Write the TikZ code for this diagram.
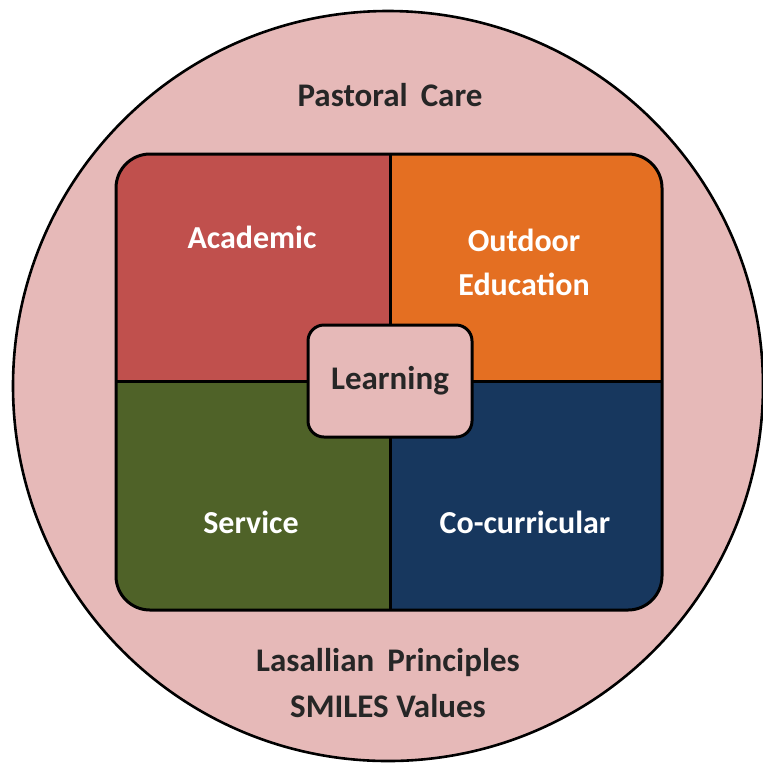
\documentclass[tikz,border=0pt]{standalone}
\usepackage{fontspec}
\setmainfont{Carlito}
\usepackage{xcolor}
\usepackage{tikz}

\definecolor{pastoral}{HTML}{E6B9B8}
\definecolor{academic}{HTML}{C0504D}
\definecolor{outdoor}{HTML}{E46F22}
\definecolor{service}{HTML}{4F6228}
\definecolor{cocurr}{HTML}{17375E}

\begin{document}
\begin{tikzpicture}[
  x=0.5pt, y=-0.5pt,
  border/.style={draw, line width=1.5pt},
  area/.style={font=\bfseries\fontsize{16}{22}\selectfont, text=white, align=center},
  caption/.style={font=\bfseries\fontsize{16.5}{23}\selectfont, text=black!85, align=center},
  hub/.style={draw, line width=1.5pt, fill=pastoral, rounded corners=8pt,
    minimum width=82pt, minimum height=56pt,
    font=\bfseries\fontsize{16.5}{20}\selectfont, text=black!85}
]
\useasboundingbox (0,0) rectangle (763,762);

% outer ring
\draw[line width=1.3pt, fill=pastoral] (388,386) circle[radius=187.5pt];

% four quadrants inside the rounded square
\begin{scope}
  \clip[rounded corners=17pt] (116,154) rectangle (662,610);
  \fill[academic] (116,154) rectangle (390,381);
  \fill[outdoor] (390,154) rectangle (662,381);
  \fill[service] (116,381) rectangle (390,610);
  \fill[cocurr] (390,381) rectangle (662,610);
\end{scope}
\draw[border] (390,154) -- (390,610);
\draw[border] (116,381) -- (662,381);
\draw[border, rounded corners=17pt] (116,154) rectangle (662,610);

\node[hub] (learning) at (390,381) {Learning};

\node[area] (academic) at (252,237) {Academic};
\node[area] (outdoor) at (524,262) {Outdoor\\Education};
\node[area] (service) at (251,522) {Service};
\node[area] (cocurricular) at (525,522) {Co-curricular};

\node[caption] (care) at (390,95) {Pastoral\, Care};
\node[caption] (values) at (388,683) {Lasallian\, Principles\\SMILES Values};
\end{tikzpicture}
\end{document}
